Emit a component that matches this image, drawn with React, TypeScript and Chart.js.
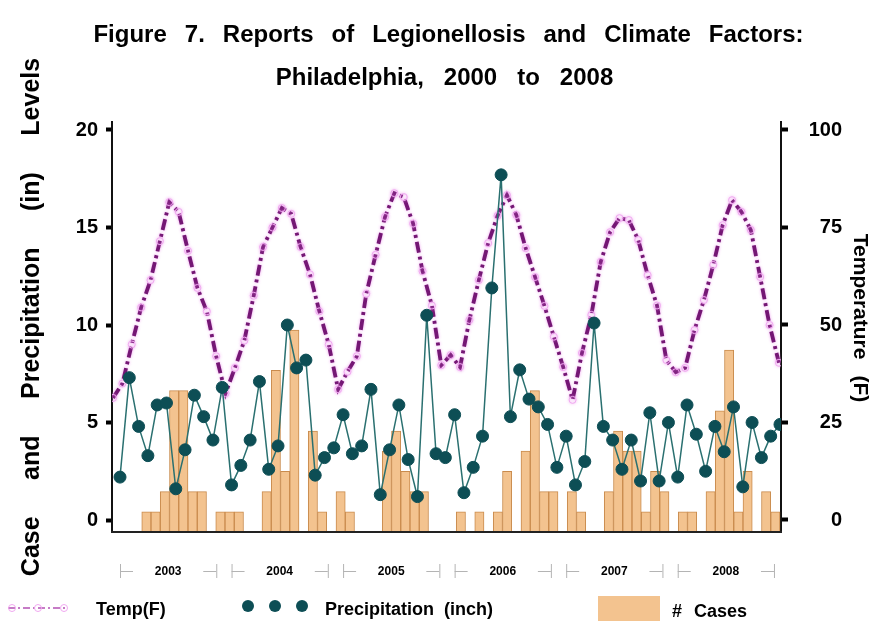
import { useEffect, useRef } from 'react';
import { Chart, registerables } from 'chart.js';

Chart.register(...registerables);

// Monthly series, January 2003 through December 2008
const years = ['2003', '2004', '2005', '2006', '2007', '2008'];

const cases = [
  0, 0, 0, 1, 1, 2, 7, 7, 2, 2, 0, 1,
  1, 1, 0, 0, 2, 8, 3, 10, 0, 5, 1, 0,
  2, 1, 0, 0, 0, 4, 5, 3, 2, 2, 0, 0,
  0, 1, 0, 1, 0, 1, 3, 0, 4, 7, 2, 2,
  0, 2, 1, 0, 0, 2, 5, 4, 4, 1, 3, 2,
  0, 1, 1, 0, 2, 6, 9, 1, 3, 0, 2, 1,
];

const precipitation = [
  2.2, 7.3, 4.8, 3.3, 5.9, 6.0, 1.6, 3.6, 6.4, 5.3, 4.1, 6.8,
  1.8, 2.8, 4.1, 7.1, 2.6, 3.8, 10.0, 7.8, 8.2, 2.3, 3.2, 3.7,
  5.4, 3.4, 3.8, 6.7, 1.3, 3.6, 5.9, 3.1, 1.2, 10.5, 3.4, 3.2,
  5.4, 1.4, 2.7, 4.3, 11.9, 17.7, 5.3, 7.7, 6.2, 5.8, 4.9, 2.7,
  4.3, 1.8, 3.0, 10.1, 4.8, 4.1, 2.6, 4.1, 2.0, 5.5, 2.0, 5.0,
  2.2, 5.9, 4.4, 2.5, 4.8, 3.5, 5.8, 1.7, 5.0, 3.2, 4.3, 4.9,
];

const temperature = [
  31.3, 35.0, 45.0, 54.5, 61.5, 71.5, 81.5, 79.0, 69.0, 59.5, 53.5, 42.0,
  32.5, 39.0, 46.0, 57.5, 70.0, 75.0, 80.0, 78.5, 70.0, 63.0, 53.5, 45.0,
  33.5, 38.0, 42.0, 58.0, 68.0, 77.7, 83.8, 82.8, 76.0, 63.8, 55.0, 39.7,
  42.3, 39.2, 51.3, 61.5, 71.0, 78.0, 83.3, 78.2, 69.7, 62.3, 54.9, 47.0,
  39.2, 30.8, 42.8, 52.6, 66.2, 73.8, 77.4, 76.9, 71.8, 62.8, 55.0, 41.0,
  37.9, 39.0, 48.7, 56.4, 65.4, 75.6, 82.0, 79.0, 74.4, 62.3, 50.0, 40.3,
];

const leftTicks = [0, 5, 10, 15, 20];
const rightTicks = [0, 25, 50, 75, 100];

const titleLines = [
  'Figure 7. Reports of Legionellosis and Climate Factors:',
  'Philadelphia, 2000 to 2008',
];
const leftTitle = 'Case and Precipitation (in) Levels';
const rightTitle = 'Temperature (F)';
const legendLabels = ['Temp(F)', 'Precipitation (inch)', '# Cases'];

const FONT = '"Liberation Sans", Arial, Helvetica, sans-serif';
const TEMP_COLOR = '#741774';
const TEMP_MARK = '#f0a8f0';
const PRECIP_LINE = '#2a7070';
const PRECIP_DOT = '#0d4e55';
const CASE_FILL = '#f3c38f';
const CASE_EDGE = '#c98b4d';

function drawSpaced(ctx: CanvasRenderingContext2D, text: string, cx: number, cy: number, gap: number) {
  const words = text.split(' ');
  const widths = words.map((w) => ctx.measureText(w).width);
  const total = widths.reduce((a, b) => a + b, 0) + gap * (words.length - 1);
  let x = cx - total / 2;
  ctx.textAlign = 'left';
  ctx.textBaseline = 'middle';
  words.forEach((w, i) => {
    ctx.fillText(w, x, cy);
    x += widths[i] + gap;
  });
}

function drawLeft(ctx: CanvasRenderingContext2D, text: string, x: number, y: number, gap: number) {
  const words = text.split(' ');
  let cx = x;
  ctx.textAlign = 'left';
  ctx.textBaseline = 'middle';
  words.forEach((w) => {
    ctx.fillText(w, cx, y);
    cx += ctx.measureText(w).width + gap;
  });
}

const decorations = {
  id: 'decorations',
  beforeDatasetDraw(chart: any, args: any) {
    if (args.index === 1) {
      const ctx = chart.ctx;
      ctx.save();
      ctx.shadowColor = 'rgba(235,140,235,0.9)';
      ctx.shadowBlur = 3;
    }
  },
  afterDatasetDraw(chart: any, args: any) {
    if (args.index === 1) chart.ctx.restore();
  },
  afterDraw(chart: any) {
    const ctx: CanvasRenderingContext2D = chart.ctx;
    const area = chart.chartArea;
    const xp = chart.scales.xp;
    ctx.save();

    // bottom frame line
    ctx.strokeStyle = '#222';
    ctx.lineWidth = 2;
    ctx.beginPath();
    ctx.moveTo(area.left - 1, area.bottom);
    ctx.lineTo(area.right + 1, area.bottom);
    ctx.stroke();

    // titles
    ctx.fillStyle = '#000';
    ctx.font = `bold 24px ${FONT}`;
    const cx = (area.left + area.right) / 2 + 2;
    drawSpaced(ctx, titleLines[0], cx, 35, 18);
    drawSpaced(ctx, titleLines[1], cx - 4, 78, 20);

    // left axis title
    ctx.save();
    ctx.translate(32, 317);
    ctx.rotate(-Math.PI / 2);
    ctx.font = `bold 25px ${FONT}`;
    drawSpaced(ctx, leftTitle, 0, 0, 36.5);
    ctx.restore();

    // right axis title
    ctx.save();
    ctx.translate(860, 318);
    ctx.rotate(Math.PI / 2);
    ctx.font = `bold 21px ${FONT}`;
    drawSpaced(ctx, rightTitle, 0, 0, 16);
    ctx.restore();

    // year brackets under the plot
    const yy = 571;
    ctx.font = `bold 12px ${FONT}`;
    years.forEach((yr, i) => {
      const x0 = xp.getPixelForValue(i * 12);
      const x1 = xp.getPixelForValue(i * 12 + 11) - 6;
      ctx.strokeStyle = '#b4b4b4';
      ctx.lineWidth = 1;
      ctx.beginPath();
      ctx.moveTo(x0 + 0.5, yy - 7);
      ctx.lineTo(x0 + 0.5, yy + 7);
      ctx.moveTo(x0, yy + 0.5);
      ctx.lineTo(x0 + 13, yy + 0.5);
      ctx.moveTo(x1 + 0.5, yy - 7);
      ctx.lineTo(x1 + 0.5, yy + 7);
      ctx.moveTo(x1, yy + 0.5);
      ctx.lineTo(x1 - 13, yy + 0.5);
      ctx.stroke();
      ctx.fillStyle = '#000';
      ctx.textAlign = 'center';
      ctx.textBaseline = 'middle';
      ctx.fillText(yr, (x0 + x1) / 2, yy + 1);
    });

    // legend
    const ly = 608;
    ctx.font = `bold 18px ${FONT}`;

    ctx.strokeStyle = '#c67cc6';
    ctx.lineWidth = 2;
    ctx.setLineDash([7, 3, 2, 3]);
    ctx.beginPath();
    ctx.moveTo(8, ly);
    ctx.lineTo(68, ly);
    ctx.stroke();
    ctx.setLineDash([]);
    ctx.strokeStyle = TEMP_MARK;
    ctx.lineWidth = 1;
    [12, 38, 64].forEach((x) => {
      ctx.beginPath();
      ctx.arc(x, ly, 3.5, 0, Math.PI * 2);
      ctx.stroke();
    });
    ctx.fillStyle = '#000';
    drawLeft(ctx, legendLabels[0], 96, ly + 2, 10);

    ctx.fillStyle = PRECIP_DOT;
    [248, 275, 302].forEach((x) => {
      ctx.beginPath();
      ctx.arc(x, ly - 2, 6, 0, Math.PI * 2);
      ctx.fill();
    });
    ctx.fillStyle = '#000';
    drawLeft(ctx, legendLabels[1], 325, ly + 2, 10);

    ctx.fillStyle = CASE_FILL;
    ctx.fillRect(598, 596, 62, 25);
    ctx.fillStyle = '#000';
    drawLeft(ctx, legendLabels[2], 672, ly + 4, 12);

    ctx.restore();
  },
};

export default function App() {
  const ref = useRef<HTMLCanvasElement>(null);

  useEffect(() => {
    document.body.style.margin = '0';
    const canvas = ref.current;
    if (!canvas) return;

    const tickFont = { family: FONT, size: 20, weight: 'bold' as const };
    const hiddenX = { type: 'linear', position: 'bottom', display: false, offset: false, grid: { offset: false } };

    const chart = new Chart(canvas, {
      type: 'bar',
      data: {
        datasets: [
          {
            type: 'line',
            label: legendLabels[1],
            data: precipitation.map((v, i) => ({ x: i, y: v })),
            xAxisID: 'xp',
            yAxisID: 'y',
            order: 0,
            borderColor: PRECIP_LINE,
            borderWidth: 1.5,
            pointRadius: 6,
            pointBackgroundColor: PRECIP_DOT,
            pointBorderColor: PRECIP_DOT,
            pointBorderWidth: 1,
            tension: 0,
          } as any,
          {
            type: 'line',
            label: legendLabels[0],
            data: temperature.map((v, i) => ({ x: i, y: v })),
            xAxisID: 'xt',
            yAxisID: 'yr',
            order: 1,
            borderColor: TEMP_COLOR,
            borderWidth: 3.8,
            borderDash: [11, 4, 3, 4],
            pointRadius: 3.5,
            pointBackgroundColor: 'rgba(0,0,0,0)',
            pointBorderColor: TEMP_MARK,
            pointBorderWidth: 1,
            tension: 0,
          } as any,
          {
            type: 'bar',
            label: legendLabels[2],
            data: cases.map((v, i) => ({ x: i, y: v })),
            xAxisID: 'xb',
            yAxisID: 'yc',
            order: 2,
            backgroundColor: CASE_FILL,
            borderColor: CASE_EDGE,
            borderWidth: 1,
            grouped: false,
            barPercentage: 1,
            categoryPercentage: 1,
          } as any,
        ],
      },
      options: {
        responsive: false,
        animation: false,
        devicePixelRatio: 1,
        layout: { padding: { top: 122, bottom: 95, left: 0, right: 34 } },
        plugins: {
          legend: { display: false },
          title: { display: false },
          tooltip: { enabled: false },
        },
        scales: {
          xb: {
            ...hiddenX,
            min: -0.716,
            max: 71.608,
            afterBuildTicks: (s: any) => { s.ticks = cases.map((_, i) => ({ value: i })); },
          },
          xp: { ...hiddenX, min: -0.861, max: 71.11 },
          xt: { ...hiddenX, min: -0.107, max: 71.22 },
          y: {
            type: 'linear',
            position: 'left',
            min: -0.615,
            max: 20.41,
            afterFit: (s: any) => { s.width = 112; },
            afterBuildTicks: (s: any) => { s.ticks = leftTicks.map((v) => ({ value: v })); },
            ticks: { font: tickFont, color: '#000', padding: 8 },
            grid: { drawOnChartArea: false, drawTicks: true, tickLength: 6, tickWidth: 4, tickColor: '#000' },
            border: { display: true, color: '#111', width: 2 },
          },
          yr: {
            type: 'linear',
            position: 'right',
            min: -3.077,
            max: 102.05,
            afterFit: (s: any) => { s.width = 61; },
            afterBuildTicks: (s: any) => { s.ticks = rightTicks.map((v) => ({ value: v })); },
            ticks: { font: tickFont, color: '#000', padding: 8, crossAlign: 'far' },
            grid: { drawOnChartArea: false, drawTicks: true, tickLength: 7, tickWidth: 4, tickColor: '#000' },
            border: { display: true, color: '#111', width: 2 },
          },
          yc: { type: 'linear', position: 'left', display: false, min: 0, max: 20.297 },
        },
      } as any,
      plugins: [decorations],
    });

    return () => chart.destroy();
  }, []);

  return (
    <div style={{ width: 876, height: 627 }}>
      <canvas ref={ref} width={876} height={627} style={{ display: 'block' }} />
    </div>
  );
}
